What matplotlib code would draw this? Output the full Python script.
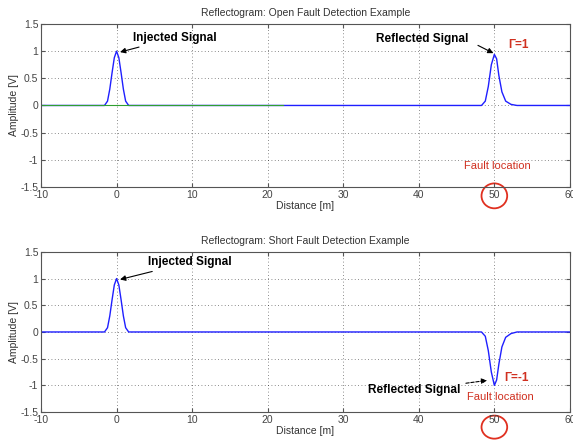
import matplotlib
matplotlib.use("Agg")
import matplotlib.pyplot as plt
from matplotlib.patches import Ellipse
import matplotlib.transforms as mtransforms

plt.rcParams['font.family'] = ['Liberation Sans', 'DejaVu Sans']

# ---- data ----
open_x = [-10, -1.6, -1.2, -0.9, -0.6, -0.3, 0.0, 0.3, 0.6, 0.9, 1.2, 1.6,
          48.3, 48.8, 49.2, 49.6, 50.0, 50.3, 50.6, 51.0, 51.5, 52.2, 53.0, 60]
open_y = [0, 0, 0.08, 0.3, 0.6, 0.88, 1.0, 0.88, 0.6, 0.3, 0.08, 0,
          0, 0.08, 0.35, 0.75, 0.94, 0.86, 0.55, 0.25, 0.08, 0.02, 0, 0]

short_x = [-10, -1.6, -1.2, -0.9, -0.6, -0.3, 0.0, 0.3, 0.6, 0.9, 1.2, 1.6,
           48.3, 48.8, 49.2, 49.6, 50.0, 50.3, 50.6, 51.0, 51.5, 52.2, 53.0, 60]
short_y = [0, 0, 0.08, 0.3, 0.6, 0.88, 1.0, 0.88, 0.6, 0.3, 0.08, 0,
           0, -0.08, -0.35, -0.75, -1.0, -0.9, -0.6, -0.28, -0.1, -0.03, 0, 0]

ref_x = [-10, 22]
ref_y = [0, 0]

x_ticks = [-10, 0, 10, 20, 30, 40, 50, 60]
y_ticks = [-1.5, -1, -0.5, 0, 0.5, 1, 1.5]
y_tick_labels = ["-1.5", "-1", "-0.5", "0", "0.5", "1", "1.5"]
x_tick_labels = ["-10", "0", "10", "20", "30", "40", "50", "60"]

titles = ["Reflectogram: Open Fault Detection Example",
          "Reflectogram: Short Fault Detection Example"]
fault_x = 50

fig = plt.figure(figsize=(5.73, 4.45), dpi=100)
ax1 = fig.add_axes([0.0716, 0.580, 0.923, 0.366])
ax2 = fig.add_axes([0.0716, 0.074, 0.923, 0.360])

for ax, title in zip([ax1, ax2], titles):
    ax.set_xlim(-10, 60)
    ax.set_ylim(-1.5, 1.5)
    ax.set_xticks(x_ticks)
    ax.set_xticklabels(x_tick_labels)
    ax.set_yticks(y_ticks)
    ax.set_yticklabels(y_tick_labels)
    ax.grid(True, color="black", linestyle=(0, (1, 3)), linewidth=0.6, alpha=0.6)
    ax.tick_params(direction="in", length=3, labelsize=7.5, colors="#555555",
                   labelcolor="#444444", pad=2, top=True, right=True)
    for s in ax.spines.values():
        s.set_color("#555555")
        s.set_linewidth(0.8)
    ax.set_title(title, fontsize=7.5, color="#333333", pad=6)
    ax.set_xlabel("Distance [m]", fontsize=7.5, color="#333333", labelpad=1)
    ax.set_ylabel("Amplitude [V]", fontsize=7.5, color="#333333", labelpad=1)

arrow = dict(arrowstyle="-|>", color="black", lw=0.8, mutation_scale=8)
bfs = 8.5

# top plot
ax1.plot(open_x, open_y, color="#1f1fff", linewidth=1.0)
ax1.plot(ref_x, ref_y, color="#30a030", linewidth=0.8)
ax1.annotate("Injected Signal", xy=(0.1, 0.97), xytext=(2.2, 1.25),
             fontsize=bfs, fontweight="bold", va="center", ha="left",
             arrowprops=arrow)
ax1.text(46.6, 1.22, "Reflected Signal", fontsize=bfs, fontweight="bold",
         va="center", ha="right")
ax1.annotate("", xy=(50.2, 0.94), xytext=(47.5, 1.13), arrowprops=arrow)
ax1.text(51.8, 1.12, "Γ=1", color="#d03020", fontsize=bfs, fontweight="bold",
         va="center", ha="left")
ax1.text(fault_x + 0.4, -1.12, "Fault location", color="#d03020", fontsize=8,
         va="center", ha="center")

# bottom plot
ax2.plot(short_x, short_y, color="#1f1fff", linewidth=1.0)
ax2.annotate("Injected Signal", xy=(0.1, 0.97), xytext=(4.2, 1.31),
             fontsize=bfs, fontweight="bold", va="center", ha="left",
             arrowprops=arrow)
ax2.annotate("Reflected Signal", xy=(49.4, -0.9), xytext=(45.5, -1.09),
             fontsize=bfs, fontweight="bold", va="center", ha="right",
             arrowprops=dict(arrowstyle="-|>", color="black", lw=0.8,
                             mutation_scale=8, linestyle=(0, (3, 1.5))))
ax2.text(51.3, -0.86, "Γ=-1", color="#d03020", fontsize=bfs, fontweight="bold",
         va="center", ha="left")
ax2.text(fault_x + 0.8, -1.22, "Fault location", color="#d03020", fontsize=8,
         va="center", ha="center")

# red circles around the fault-location tick label
for ax, yc, hgt in [(ax1, -0.055, 0.153), (ax2, -0.094, 0.144)]:
    trans = mtransforms.blended_transform_factory(ax.transData, ax.transAxes)
    e = Ellipse((fault_x, yc), 3.4, hgt, transform=trans, fill=False,
                edgecolor="#e03020", linewidth=1.3, clip_on=False)
    ax.add_patch(e)

fig.savefig("out.png", dpi=100)
